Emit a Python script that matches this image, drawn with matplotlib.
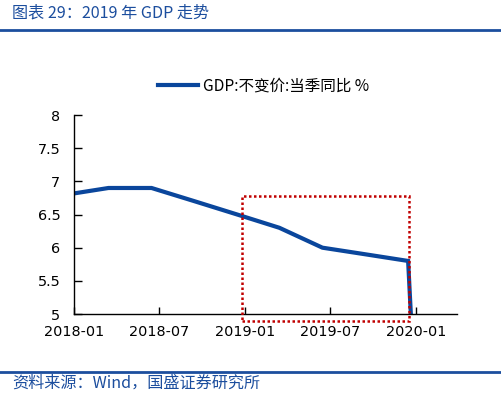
#!/usr/bin/env python

# GDP constant-price YoY (quarterly), 2018-2020 panel with highlight box

import datetime

import matplotlib

matplotlib.use("Agg")
import matplotlib.pyplot as plt
import matplotlib.dates as mdates
from matplotlib.patches import Rectangle
from matplotlib.lines import Line2D

plt.rcParams["font.family"] = ["Noto Sans CJK SC", "DejaVu Sans"]

# Data (quarterly, plotted mid-month of the quarter-end month)
quarters = [
    "2017-12", "2018-03", "2018-06", "2018-09", "2018-12",
    "2019-03", "2019-06", "2019-09", "2019-12", "2020-03",
]
gdp_yoy = [6.8, 6.9, 6.9, 6.7, 6.5, 6.3, 6.0, 5.9, 5.8, -6.8]
series_name = "GDP:不变价:当季同比 %"
title = "图表 29：2019 年 GDP 走势"
source = "资料来源：Wind，国盛证券研究所"
yticks = [5, 5.5, 6, 6.5, 7, 7.5, 8]
yticklabels = ["5", "5.5", "6", "6.5", "7", "7.5", "8"]

dates = [datetime.datetime.strptime(q + "-15", "%Y-%m-%d") for q in quarters]

line_blue = "#0A469C"
text_blue = "#1C4E9E"

fig = plt.figure(figsize=(5.02, 3.98), dpi=100, facecolor="white")

# Main axes
ax = fig.add_axes([0.148, 0.211, 0.762, 0.5])
ax.plot(dates, gdp_yoy, color=line_blue, linewidth=3.0, solid_joinstyle="miter",
        clip_on=True)
ax.set_ylim(5, 8)
ax.set_yticks(yticks)
ax.set_yticklabels(yticklabels)
ax.set_xlim(datetime.datetime(2018, 1, 1), datetime.datetime(2020, 3, 28))
ax.xaxis.set_major_locator(mdates.MonthLocator(bymonth=[1, 7]))
ax.xaxis.set_major_formatter(mdates.DateFormatter("%Y-%m"))
for s in ("top", "right"):
    ax.spines[s].set_visible(False)
for s in ("left", "bottom"):
    ax.spines[s].set_linewidth(1.0)
    ax.spines[s].set_color("black")
ax.tick_params(axis="y", direction="in", length=6, width=1, pad=10)
ax.tick_params(axis="x", direction="in", length=5, width=1, pad=8)
for lab in ax.get_xticklabels() + ax.get_yticklabels():
    lab.set_fontfamily("DejaVu Sans")
    lab.set_fontsize(10.4)

# Legend
handle = Line2D([], [], color=line_blue, linewidth=3.0)
fig.legend([handle], [series_name], loc="center", bbox_to_anchor=(0.525, 0.783),
           frameon=False, handlelength=2.6, handletextpad=0.3,
           prop={"family": ["Noto Sans CJK SC", "DejaVu Sans"], "size": 11.2})

# Red dotted highlight box
fig.add_artist(Rectangle((0.4827, 0.1942), 0.332, 0.314, transform=fig.transFigure,
                         fill=False, edgecolor="#C00000", linewidth=1.8,
                         linestyle=(0, (1, 1)), clip_on=False))

# Title and source with rules
fig.text(0.024, 0.967, title, color=text_blue, fontsize=11.6, style="italic",
         ha="left", va="center")
fig.add_artist(Line2D([0, 1], [0.925, 0.925], transform=fig.transFigure,
                      color=text_blue, linewidth=2.0))
fig.add_artist(Line2D([0, 1], [0.066, 0.066], transform=fig.transFigure,
                      color=text_blue, linewidth=2.0))
fig.text(0.024, 0.038, source, color=text_blue, fontsize=11.6, style="italic",
         ha="left", va="center")

fig.savefig("out.png", dpi=100, facecolor="white")
